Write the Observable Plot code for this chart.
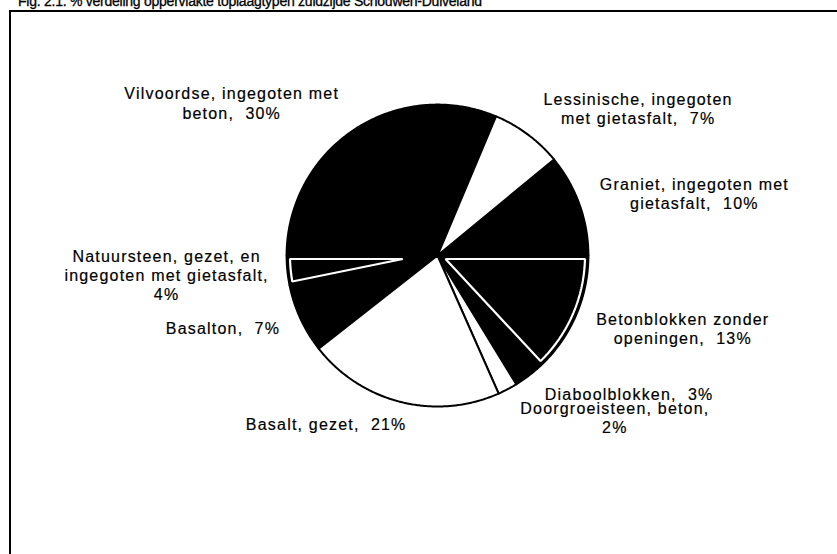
<!DOCTYPE html>
<html><head><meta charset="utf-8">
<script src="https://cdn.jsdelivr.net/npm/d3@7"></script>
<script src="https://cdn.jsdelivr.net/npm/@observablehq/plot@0.6"></script>
<style>
html,body{margin:0;padding:0;background:#fff;overflow:hidden;}
body{width:837px;height:554px;position:relative;font-family:"Liberation Sans",Arial,sans-serif;}
#title{position:absolute;left:18px;top:-6px;font-size:14px;line-height:14px;white-space:nowrap;color:#000;letter-spacing:-0.25px;-webkit-text-stroke:0.3px #000;}
#frame{position:absolute;left:9px;top:10px;width:900px;height:600px;border-top:2px solid #000;border-left:2px solid #000;}
#chart svg text{letter-spacing:1.2px;}
</style></head><body>
<div id="title">Fig. 2.1: % verdeling oppervlakte toplaagtypen zuidzijde Schouwen-Duiveland</div>
<div id="frame"><div id="chart"></div></div>
<script>
// ---- data ----
const categories = [
  "Vilvoordse, ingegoten met beton",
  "Lessinische, ingegoten met gietasfalt",
  "Graniet, ingegoten met gietasfalt",
  "Betonblokken zonder openingen",
  "Diaboolblokken",
  "Doorgroeisteen, beton",
  "Basalt, gezet",
  "Basalton",
  "Natuursteen, gezet, en ingegoten met gietasfalt"
];
// slice shares as drawn
const shares = [31.4, 7.7, 11.0, 13.1, 3.2, 2.1, 21.1, 7.4, 3.2];
// printed percentages
const pctLabels = [30, 7, 10, 13, 3, 2, 21, 7, 4];
// label text with the original line breaks ("|" = separator before the percentage)
const labelNames = [
  "Vilvoordse, ingegoten met\nbeton,|",
  "Lessinische, ingegoten\nmet gietasfalt,|",
  "Graniet, ingegoten met\ngietasfalt,|",
  "Betonblokken zonder\nopeningen,|",
  "Diaboolblokken,|",
  "Doorgroeisteen, beton,\n",
  "Basalt, gezet,|",
  "Basalton,|",
  "Natuursteen, gezet, en\ningegoten met gietasfalt,\n"
];
// styles
const sliceFill = ["black","white","black","black","black","white","white","black","black"];
const sliceInsetOutline = [false,false,false,true,false,false,false,false,true];

// ---- layout ----
const W = 826, H = 542, CX = 426, CY = 243, R = 151;
const FS = 16, LH = 1.2, LS = 1.2, GAP = 18;

const arcs = d3.pie().sort(null).startAngle(-Math.PI/2).endAngle(1.5*Math.PI)(shares);

function slicePoly(a0, a1, insetPx) {
  const d = insetPx / R;
  const half = (a1 - a0) / 2, mid = (a0 + a1) / 2;
  const apex = insetPx ? d / Math.sin(half) : 0;
  const pts = [[apex * Math.sin(mid), apex * Math.cos(mid)]];
  const rr = 1 - d;
  const da = insetPx ? Math.asin(d / rr) : 0;
  const b0 = a0 + da, b1 = a1 - da;
  const n = Math.max(2, Math.ceil((b1 - b0) / (Math.PI / 360)));
  for (let i = 0; i <= n; i++) {
    const a = b0 + (b1 - b0) * i / n;
    pts.push([rr * Math.sin(a), rr * Math.cos(a)]);
  }
  return pts;
}

const sliceRows = [];
const insetRows = [];
arcs.forEach((a, i) => {
  slicePoly(a.startAngle, a.endAngle, 0).forEach(([x, y]) =>
    sliceRows.push({id: categories[i], x, y, fill: sliceFill[i]}));
  if (sliceInsetOutline[i]) {
    slicePoly(a.startAngle, a.endAngle, 3.5).forEach(([x, y]) =>
      insetRows.push({id: categories[i], x, y}));
  }
});

const ctx = document.createElement("canvas").getContext("2d");
ctx.font = `${FS}px "Liberation Sans"`;
const clamp = (v) => Math.max(-1, Math.min(1, v));
const labelRows = arcs.map((a, i) => {
  const text = labelNames[i].replace("|", "\u00a0 ") + pctLabels[i] + "%";
  const lines = text.split("\n");
  const w = d3.max(lines, (l) => ctx.measureText(l).width + LS * (l.length - 1));
  const h = lines.length * FS * LH;
  const m = (a.startAngle + a.endAngle) / 2;
  const dx = Math.sin(m), dy = -Math.cos(m);
  const px = (R + GAP) * dx + 12 * Math.abs(dx * dy) * Math.sign(dx);
  const py = (R + GAP - 5) * dy;
  const cx = px + clamp(3.5 * dx) * w / 2;
  const cy = py + dy * h / 2;
  return {text, x: cx / R, y: -cy / R};
});

const chart = Plot.plot({
  width: W, height: H,
  marginLeft: CX - R, marginRight: W - CX - R,
  marginTop: CY - R, marginBottom: H - CY - R,
  x: {domain: [-1, 1], axis: null},
  y: {domain: [-1, 1], axis: null},
  style: {background: "white", fontFamily: "'Liberation Sans', Arial, sans-serif", overflow: "visible"},
  marks: [
    Plot.line(sliceRows.filter(d => d.fill === "black"), {x: "x", y: "y", z: "id", fill: "black", stroke: "black", strokeWidth: 1.8, curve: "linear-closed"}),
    Plot.line(sliceRows.filter(d => d.fill === "white"), {x: "x", y: "y", z: "id", fill: "white", stroke: "black", strokeWidth: 2, curve: "linear-closed"}),
    Plot.line(insetRows, {x: "x", y: "y", z: "id", stroke: "white", strokeWidth: 2.2, strokeLinejoin: "miter", curve: "linear-closed"}),
    Plot.text(labelRows, {x: "x", y: "y", text: "text", textAnchor: "middle", lineAnchor: "middle", lineHeight: LH, fontSize: FS, fill: "black", stroke: "black", strokeWidth: 0.2})
  ]
});
document.getElementById("chart").appendChild(chart);
</script>
</body></html>
